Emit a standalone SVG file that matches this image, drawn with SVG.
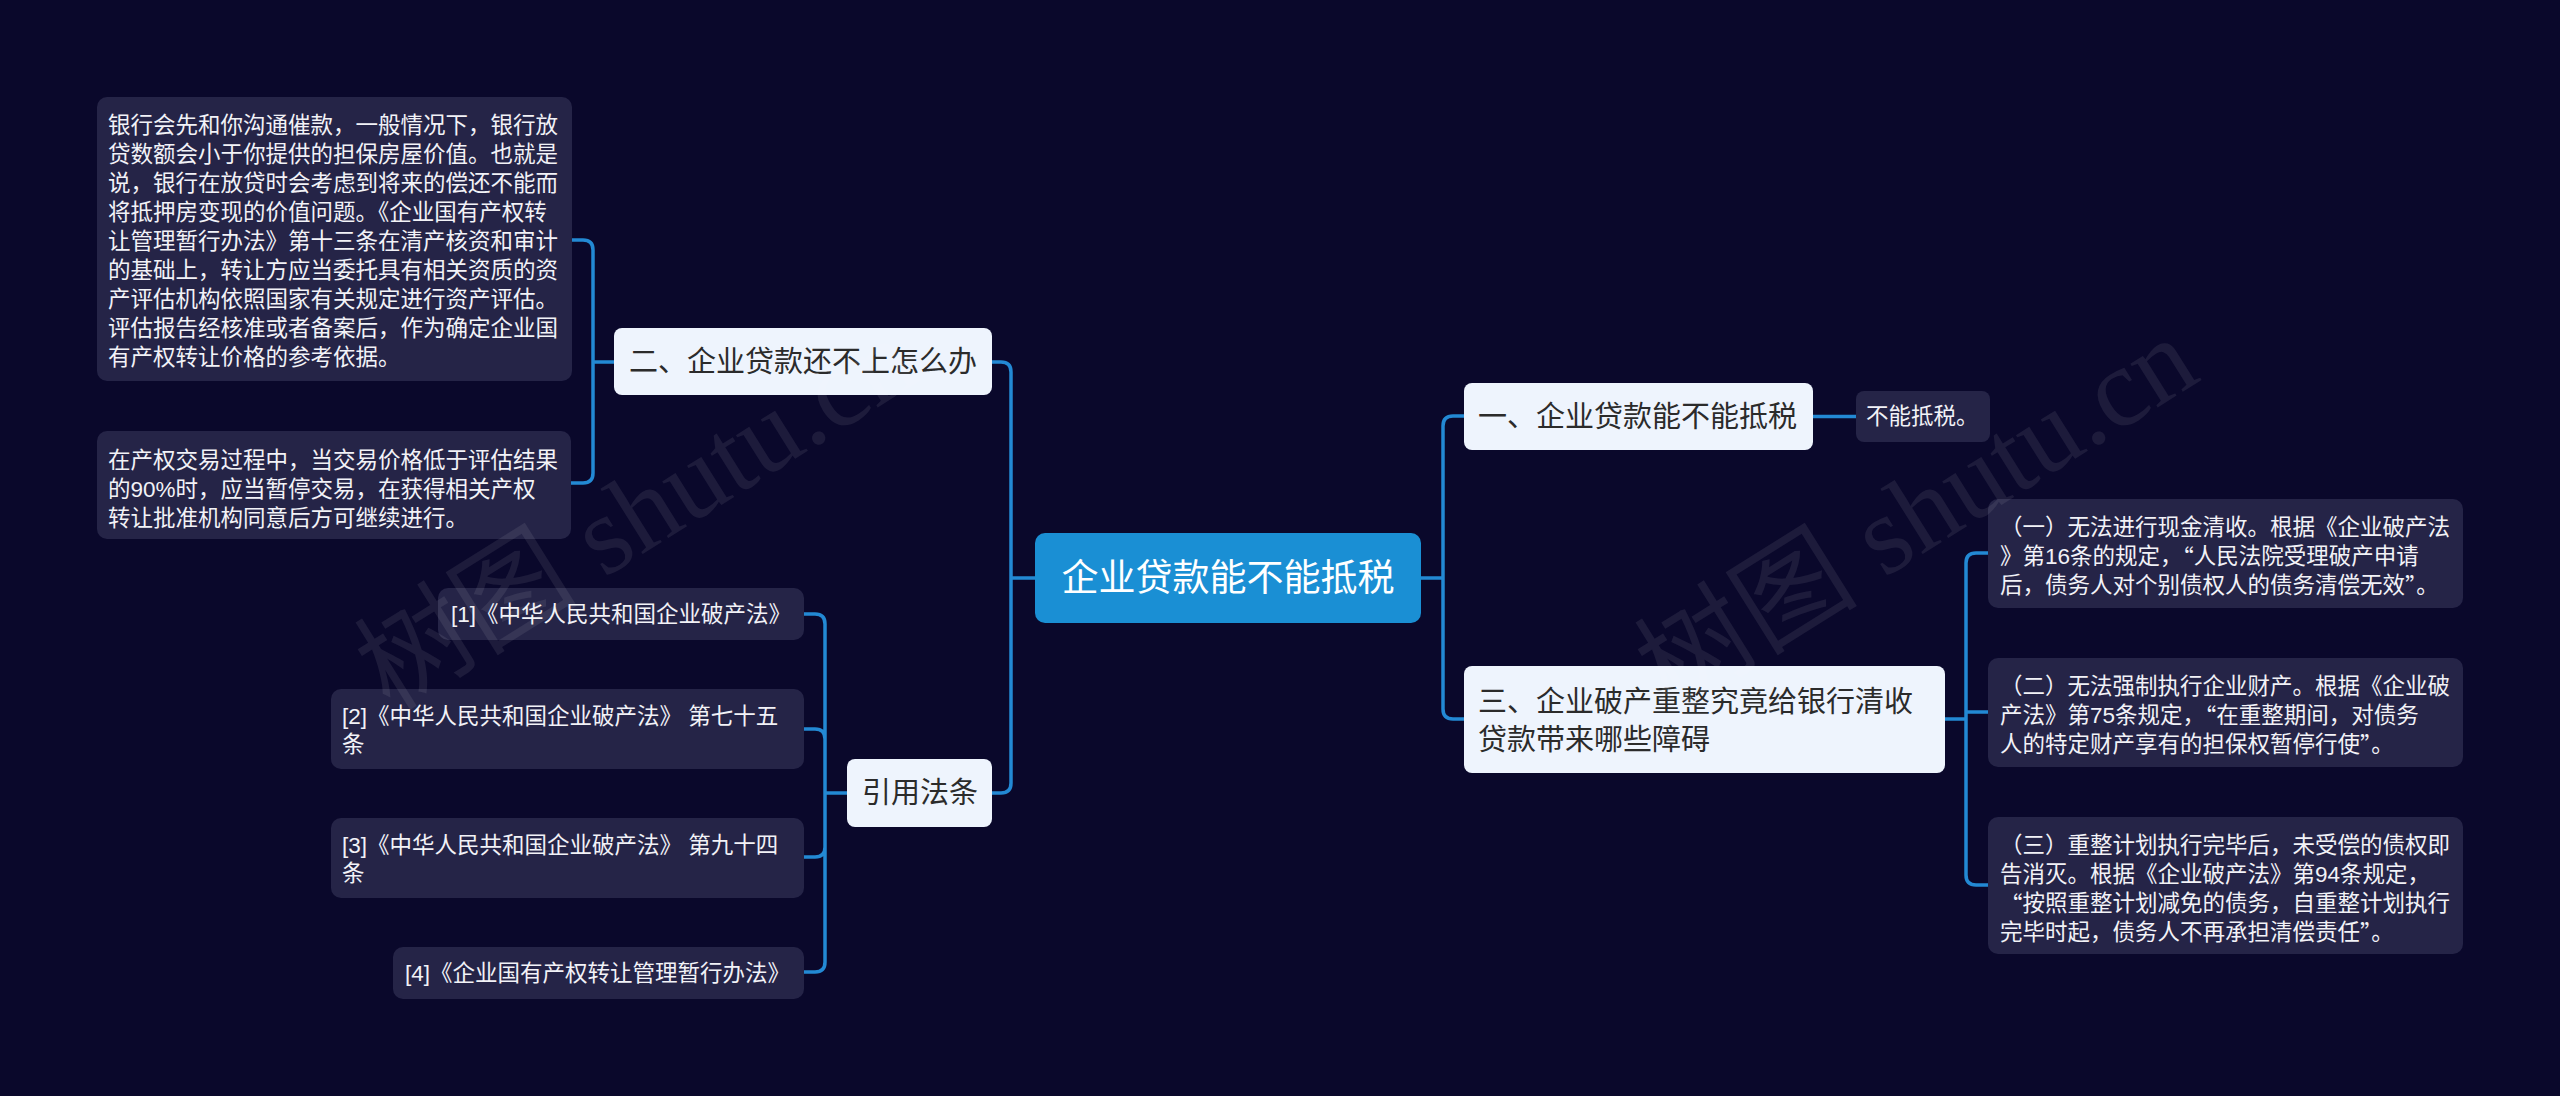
<svg xmlns="http://www.w3.org/2000/svg" width="2560" height="1096" viewBox="0 0 2560 1096">
<style>
text{font-family:"Liberation Sans","Noto Sans CJK SC",sans-serif;dominant-baseline:central}
.q{font-family:"Noto Sans CJK SC",sans-serif}
.leaf{fill:#252447}
.lt{fill:#f2f2f7;font-size:22.5px}
.l1{fill:#eef4fd}
.t1{fill:#2b2b2b;font-size:29px}
.root{fill:#1a8fd4}
.rt{fill:#ffffff;font-size:37px}
.c{fill:none;stroke:#2389d4;stroke-width:3.5;stroke-linecap:round}
.wm{font-family:"Liberation Serif","Noto Sans CJK SC",serif;font-size:112px;fill:#ffffff;fill-opacity:0.08;dominant-baseline:auto}
</style>
<rect x="0" y="0" width="2560" height="1096" fill="#0a082b"/>

<g id="connectors">
<path class="c" d="M1421 578 H1443 M1443 578 V426 Q1443 416 1453 416 H1464 M1443 578 V709 Q1443 719 1453 719 H1464"/>
<path class="c" d="M1035 578 H1011 M1011 578 V372 Q1011 362 1001 362 H992 M1011 578 V783 Q1011 793 1001 793 H992"/>
<path class="c" d="M1813 416.5 H1856"/>
<path class="c" d="M1945 719 H1966 M1966 719 V563 Q1966 553 1976 553 H1988 M1966 712 H1988 M1966 719 V875 Q1966 885 1976 885 H1988"/>
<path class="c" d="M614 362 H593 M593 362 V250 Q593 240 583 240 H572 M593 362 V473 Q593 483 583 483 H571"/>
<path class="c" d="M847 793 H825 M825 793 V624 Q825 614 815 614 H804 M825 793 V739 Q825 729 815 729 H804 M825 793 V847 Q825 857 815 857 H804 M825 793 V962 Q825 972 815 972 H804"/>
</g>

<g id="root">
<rect class="root" x="1035" y="533" width="386" height="90" rx="10"/>
<text class="rt" x="1228" y="578" text-anchor="middle">企业贷款能不能抵税</text>
</g>

<g id="n1">
<rect class="l1" x="1464" y="383" width="349" height="67" rx="8"/>
<text class="t1" x="1478" y="416.5">一、企业贷款能不能抵税</text>
</g>
<g id="n1a">
<rect class="leaf" x="1856" y="391" width="134" height="51" rx="8"/>
<text class="lt" x="1866" y="416.5">不能抵税。</text>
</g>

<g id="n3">
<rect class="l1" x="1464" y="666" width="481" height="107" rx="8"/>
<text class="t1" x="1478" y="702">三、企业破产重整究竟给银行清收</text>
<text class="t1" x="1478" y="740">贷款带来哪些障碍</text>
</g>
<g id="n3a">
<rect class="leaf" x="1988" y="499" width="475" height="109" rx="10"/>
<text class="lt" x="2000" y="527">（一）无法进行现金清收。根据《企业破产法</text>
<text class="lt" x="2000" y="556">》第16条的规定，<tspan class="q">“</tspan>人民法院受理破产申请</text>
<text class="lt" x="2000" y="585">后，债务人对个别债权人的债务清偿无效<tspan class="q">”</tspan>。</text>
</g>
<g id="n3b">
<rect class="leaf" x="1988" y="658" width="475" height="109" rx="10"/>
<text class="lt" x="2000" y="686">（二）无法强制执行企业财产。根据《企业破</text>
<text class="lt" x="2000" y="715">产法》第75条规定，<tspan class="q">“</tspan>在重整期间，对债务</text>
<text class="lt" x="2000" y="744">人的特定财产享有的担保权暂停行使<tspan class="q">”</tspan>。</text>
</g>
<g id="n3c">
<rect class="leaf" x="1988" y="817" width="475" height="137" rx="10"/>
<text class="lt" x="2000" y="845">（三）重整计划执行完毕后，未受偿的债权即</text>
<text class="lt" x="2000" y="874">告消灭。根据《企业破产法》第94条规定，</text>
<text class="lt" x="2000" y="903"><tspan class="q">“</tspan>按照重整计划减免的债务，自重整计划执行</text>
<text class="lt" x="2000" y="932">完毕时起，债务人不再承担清偿责任<tspan class="q">”</tspan>。</text>
</g>

<g id="n2">
<rect class="l1" x="614" y="328" width="378" height="67" rx="8"/>
<text class="t1" x="629" y="362">二、企业贷款还不上怎么办</text>
</g>
<g id="n2a">
<rect class="leaf" x="97" y="97" width="475" height="284" rx="10"/>
<text class="lt" x="108" y="125">银行会先和你沟通催款，一般情况下，银行放</text>
<text class="lt" x="108" y="154">贷数额会小于你提供的担保房屋价值。也就是</text>
<text class="lt" x="108" y="183">说，银行在放贷时会考虑到将来的偿还不能而</text>
<text class="lt" x="108" y="212">将抵押房变现的价值问题。《企业国有产权转</text>
<text class="lt" x="108" y="241">让管理暂行办法》第十三条在清产核资和审计</text>
<text class="lt" x="108" y="270">的基础上，转让方应当委托具有相关资质的资</text>
<text class="lt" x="108" y="299">产评估机构依照国家有关规定进行资产评估。</text>
<text class="lt" x="108" y="328">评估报告经核准或者备案后，作为确定企业国</text>
<text class="lt" x="108" y="357">有产权转让价格的参考依据。</text>
</g>
<g id="n2b">
<rect class="leaf" x="97" y="431" width="474" height="108" rx="10"/>
<text class="lt" x="108" y="460">在产权交易过程中，当交易价格低于评估结果</text>
<text class="lt" x="108" y="489">的90%时，应当暂停交易，在获得相关产权</text>
<text class="lt" x="108" y="518">转让批准机构同意后方可继续进行。</text>
</g>

<g id="n4">
<rect class="l1" x="847" y="759" width="145" height="68" rx="8"/>
<text class="t1" x="862" y="793">引用法条</text>
</g>
<g id="n4a">
<rect class="leaf" x="438" y="588" width="366" height="52" rx="10"/>
<text class="lt" x="451" y="614">[1]《中华人民共和国企业破产法》</text>
</g>
<g id="n4b">
<rect class="leaf" x="331" y="689" width="473" height="80" rx="10"/>
<text class="lt" x="342" y="716">[2]《中华人民共和国企业破产法》 第七十五</text>
<text class="lt" x="342" y="744">条</text>
</g>
<g id="n4c">
<rect class="leaf" x="331" y="818" width="473" height="80" rx="10"/>
<text class="lt" x="342" y="845">[3]《中华人民共和国企业破产法》 第九十四</text>
<text class="lt" x="342" y="873">条</text>
</g>
<g id="n4d">
<rect class="leaf" x="393" y="947" width="411" height="52" rx="10"/>
<text class="lt" x="405" y="973">[4]《企业国有产权转让管理暂行办法》</text>
</g>

<text class="wm" x="390" y="712" transform="rotate(-32 390 712)">树图 shutu.cn</text>
<text class="wm" x="1670" y="712" transform="rotate(-32 1670 712)">树图 shutu.cn</text>
</svg>
